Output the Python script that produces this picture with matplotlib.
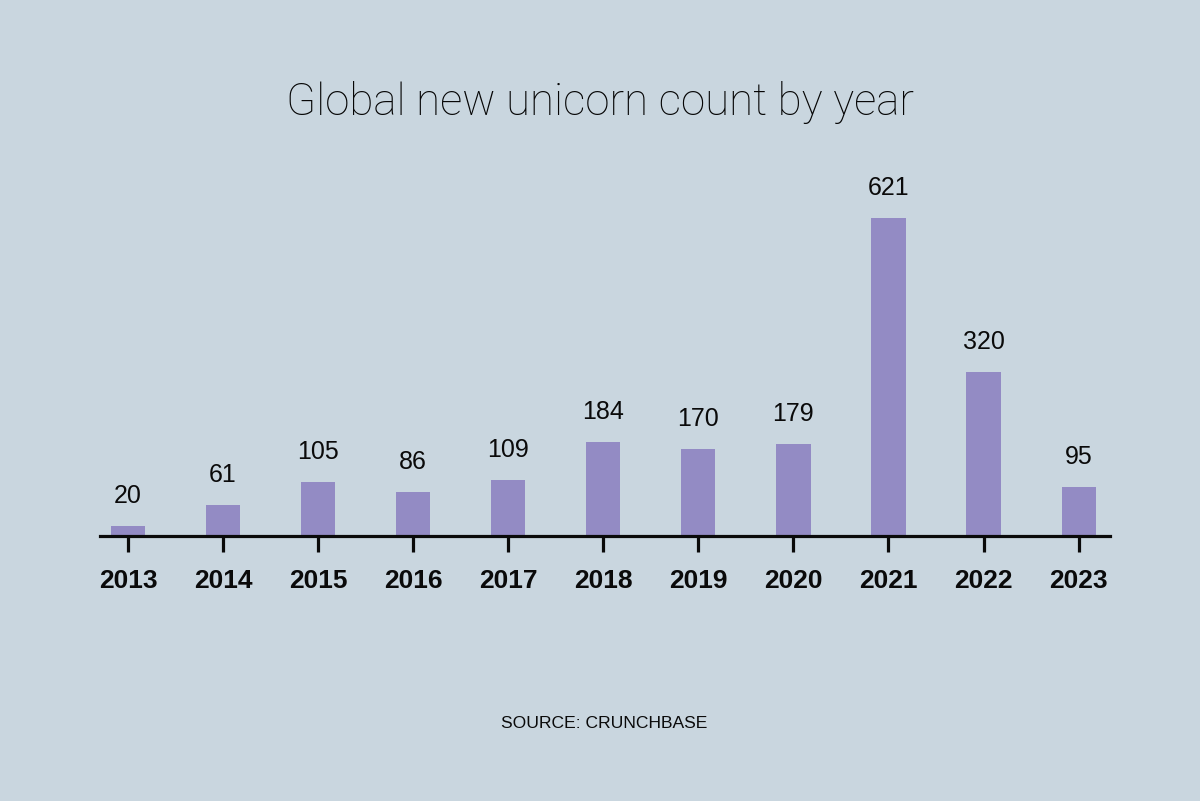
import matplotlib
matplotlib.use("Agg")
import matplotlib.pyplot as plt

years = ["2013", "2014", "2015", "2016", "2017", "2018", "2019", "2020", "2021", "2022", "2023"]
counts = [20, 61, 105, 86, 109, 184, 170, 179, 621, 320, 95]

title = "Global new unicorn count by year"
source = "SOURCE: CRUNCHBASE"

bg = "#C9D6DF"
bar_color = "#938BC4"

fig = plt.figure(figsize=(12, 8.01), dpi=100, facecolor=bg)
ax = fig.add_axes([100/1200, (801-536)/801, 1010/1200, 386/801])
ax.set_facecolor(bg)

x = list(range(len(years)))
ax.bar(x, counts, width=0.36, color=bar_color, zorder=2)
for xi, v in zip(x, counts):
    ax.annotate(str(v), (xi, v), xytext=(0, 13), textcoords="offset points",
                ha="center", va="bottom", fontsize=18, family="Liberation Sans", color="#0a0a0a")

ax.set_xlim(-0.294, 10.33)
ax.set_ylim(0, 754)
ax.set_xticks(x)
ax.set_xticklabels(years, fontsize=19, fontweight="bold", family="Liberation Sans", color="#0a0a0a")
ax.set_yticks([])
for s in ["left", "right", "top"]:
    ax.spines[s].set_visible(False)
ax.spines["bottom"].set_linewidth(2.3)
ax.spines["bottom"].set_color("#0a0a0a")
ax.tick_params(axis="x", length=11.5, width=2.3, color="#0a0a0a", pad=12)

fig.text(0.5, 1 - 102/801, title, ha="center", va="center", fontsize=31.6,
         family="Roboto", fontweight="light", color="#050505")
fig.text(604/1200, 1 - 724/801, source, ha="center", va="center", fontsize=12.6,
         family="Liberation Sans", color="#0a0a0a")

fig.savefig("out.png", dpi=100, facecolor=bg)
